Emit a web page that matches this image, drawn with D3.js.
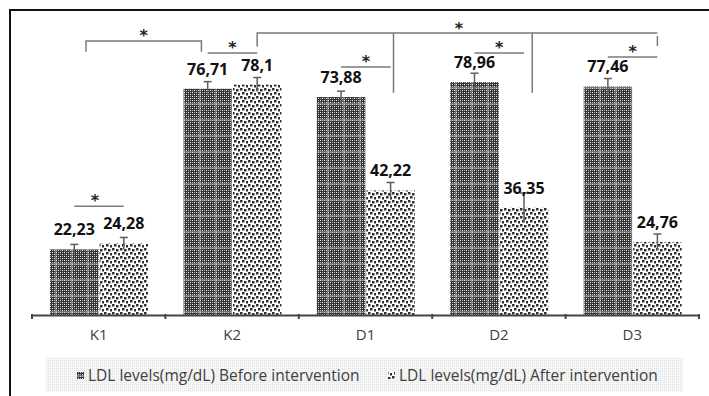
<!DOCTYPE html>
<html>
<head>
<meta charset="utf-8">
<script src="https://cdn.jsdelivr.net/npm/d3@7"></script>
<style>
  body { margin: 0; background: #fff; }
  svg { display: block; font-family: "Open Sans", sans-serif; }
</style>
</head>
<body>
<svg id="chart"></svg>
<script>
// data
const groups = ["K1", "K2", "D1", "D2", "D3"];
const seriesNames = ["LDL levels(mg/dL) Before intervention", "LDL levels(mg/dL) After intervention"];
const before = [22.23, 76.71, 73.88, 78.96, 77.46];
const after = [24.28, 78.1, 42.22, 36.35, 24.76];
const beforeErr = [1.7, 2.4, 2.0, 3.0, 2.7];
const afterErr = [2.0, 2.4, 2.7, 5.0, 2.7];
const beforeLabels = ["22,23", "76,71", "73,88", "78,96", "77,46"];
const afterLabels = ["24,28", "78,1", "42,22", "36,35", "24,76"];

// significance lines between before/after, level in mg/dL
const pairLines = [
  { g: "K1", level: 36.9 },
  { g: "K2", level: 88.8 },
  { g: "D1", level: 84.1 },
  { g: "D2", level: 88.8 },
  { g: "D3", level: 87.5 }
];

let w = 709;
let h = 396;
let svg = d3.select('#chart').attr('width', w).attr('height', h);

// frame (cut off at right and bottom like the source)
svg.append('rect')
   .attr('x', 10).attr('y', 10)
   .attr('width', 720).attr('height', 420)
   .attr('fill', 'none')
   .attr('stroke', '#111')
   .attr('stroke-width', 2);

// patterns
let defs = svg.append('defs');
let pb = defs.append('pattern').attr('id', 'patBefore')
             .attr('patternUnits', 'userSpaceOnUse').attr('width', 16).attr('height', 16);
pb.append('rect').attr('width', 16).attr('height', 16).attr('fill', '#353535');
for (let i = 0; i < 16; i += 2) {
  for (let j = 0; j < 16; j += 2) {
    let light = (i + j) % 4 === 0;
    pb.append('rect').attr('x', i).attr('y', j).attr('width', 1).attr('height', 1)
      .attr('fill', light ? '#f2f2f2' : '#a8a8a8');
  }
}
pb.append('rect').attr('x', 7).attr('y', 0).attr('width', 2).attr('height', 16).attr('fill', '#bdbdbd').attr('opacity', 0.45);
pb.append('rect').attr('x', 0).attr('y', 7).attr('width', 16).attr('height', 2).attr('fill', '#bdbdbd').attr('opacity', 0.45);

let pa = defs.append('pattern').attr('id', 'patAfter')
             .attr('patternUnits', 'userSpaceOnUse').attr('width', 8).attr('height', 8);
pa.append('rect').attr('width', 8).attr('height', 8).attr('fill', '#fff');
[[0, 0], [4, 1], [2, 4], [6, 5]].forEach(p => pa.append('rect').attr('x', p[0]).attr('y', p[1]).attr('width', 2.5).attr('height', 2.5).attr('fill', '#2e2e2e'));

let pl = defs.append('pattern').attr('id', 'patLegend')
             .attr('patternUnits', 'userSpaceOnUse').attr('width', 2).attr('height', 2);
pl.append('rect').attr('width', 2).attr('height', 2).attr('fill', '#f7f7f7');
pl.append('rect').attr('width', 1).attr('height', 1).attr('fill', '#e4e4e4');

// scales
let x = d3.scaleBand().domain(groups).range([32, 699]);
let bw = x.bandwidth();
let x1 = d3.scaleBand().domain([0, 1]).range([0.135 * bw, 0.87 * bw]).paddingInner(0.02);
let y = d3.scaleLinear().domain([0, 100]).range([315, 20]);

let rows = [];
groups.forEach((g, i) => {
  rows.push({ g: g, s: 0, v: before[i], e: beforeErr[i], lab: beforeLabels[i] });
  rows.push({ g: g, s: 1, v: after[i], e: afterErr[i], lab: afterLabels[i] });
});
let cx = d => x(d.g) + x1(d.s) + x1.bandwidth() / 2;

// bars
svg.append('g').selectAll('rect')
   .data(rows).enter().append('rect')
   .attr('x', d => x(d.g) + x1(d.s))
   .attr('width', x1.bandwidth())
   .attr('y', d => y(d.v))
   .attr('height', d => y(0) - y(d.v))
   .attr('fill', d => d.s === 0 ? 'url(#patBefore)' : 'url(#patAfter)');

// error bars
let eb = svg.append('g').attr('stroke', '#5e5e5e').attr('stroke-width', 1.5);
rows.forEach(d => {
  eb.append('line').attr('x1', cx(d)).attr('x2', cx(d)).attr('y1', y(d.v + d.e)).attr('y2', y(d.v - d.e));
  eb.append('line').attr('x1', cx(d) - 4).attr('x2', cx(d) + 4).attr('y1', y(d.v + d.e)).attr('y2', y(d.v + d.e));
});

// value labels
svg.append('g').selectAll('text')
   .data(rows).enter().append('text')
   .attr('x', cx)
   .attr('y', d => y(d.v) - 14)
   .attr('text-anchor', 'middle')
   .attr('font-size', 16)
   .attr('font-weight', 'bold')
   .attr('fill', '#111')
   .text(d => d.lab);

// x axis
let xAxis = d3.axisBottom(x).tickSize(0).tickPadding(14);
let ax = svg.append('g').attr('transform', 'translate(0,' + y(0) + ')').call(xAxis);
ax.select('.domain').attr('stroke', '#444').attr('stroke-width', 2);
ax.selectAll('text').attr('font-size', 15).attr('fill', '#404040').attr('font-family', '"Open Sans", sans-serif');
ax.selectAll('.sep').data(groups.concat(['end'])).enter().append('line')
  .attr('class', 'sep')
  .attr('x1', (g, i) => 32 + i * bw).attr('x2', (g, i) => 32 + i * bw)
  .attr('y1', -1).attr('y2', 4)
  .attr('stroke', '#444').attr('stroke-width', 2);

// significance annotations
let sig = svg.append('g').attr('stroke', '#7a7a7a').attr('stroke-width', 1.5).attr('fill', 'none');
let stars = [];
let px = (g, f) => x(g) + f * bw;
let bc = g => x(g) + x1(0) + x1.bandwidth() / 2;
let ac = g => x(g) + x1(1) + x1.bandwidth() / 2;

pairLines.forEach(p => {
  sig.append('line').attr('x1', bc(p.g)).attr('x2', ac(p.g)).attr('y1', y(p.level)).attr('y2', y(p.level));
  stars.push([(bc(p.g) + ac(p.g)) / 2 + (p.g === 'K1' ? -4 : 0), y(p.level) - 8]);
});

// K1 vs K2 bracket
sig.append('path')
   .attr('d', 'M' + px('K1', 0.405) + ',' + y(89.2) + 'V' + y(92.9) + 'H' + px('K2', 0.27) + 'V' + y(89.2));
stars.push([(px('K1', 0.405) + px('K2', 0.27)) / 2, y(92.9) - 8]);

// K2 vs D groups bracket
sig.append('path')
   .attr('d', 'M' + ac('K2') + ',' + y(91) + 'V' + y(95.6) + 'H' + ac('D3'));
sig.append('line').attr('x1', px('D1', 0.71)).attr('x2', px('D1', 0.71)).attr('y1', y(95.6)).attr('y2', y(75.3));
sig.append('line').attr('x1', px('D2', 0.75)).attr('x2', px('D2', 0.75)).attr('y1', y(95.6)).attr('y2', y(75.3));
sig.append('line').attr('x1', ac('D3')).attr('x2', ac('D3')).attr('y1', y(94.6)).attr('y2', y(91.2));
stars.push([px('D2', 0.2), y(95.6) - 7]);

// stars centred on their anchor point
svg.append('g').selectAll('text')
   .data(stars).enter().append('text')
   .attr('x', d => d[0]).attr('y', d => d[1] + 8)
   .attr('text-anchor', 'middle')
   .attr('font-size', 16)
   .attr('font-weight', 'bold')
   .attr('font-family', '"DejaVu Sans", sans-serif')
   .attr('fill', '#222')
   .text('*');

// legend
let lg = svg.append('g');
lg.append('rect').attr('x', 46).attr('y', 358).attr('width', 637).attr('height', 34).attr('fill', 'url(#patLegend)');
let legX = [77, 388];
seriesNames.forEach((s, i) => {
  lg.append('rect').attr('x', legX[i]).attr('y', 372).attr('width', 7).attr('height', 7)
    .attr('fill', i === 0 ? 'url(#patBefore)' : 'url(#patAfter)');
  lg.append('text').attr('x', legX[i] + 11).attr('y', 381)
    .attr('font-size', 15.5).attr('fill', '#404040')
    .text(s);
});
</script>
</body>
</html>
